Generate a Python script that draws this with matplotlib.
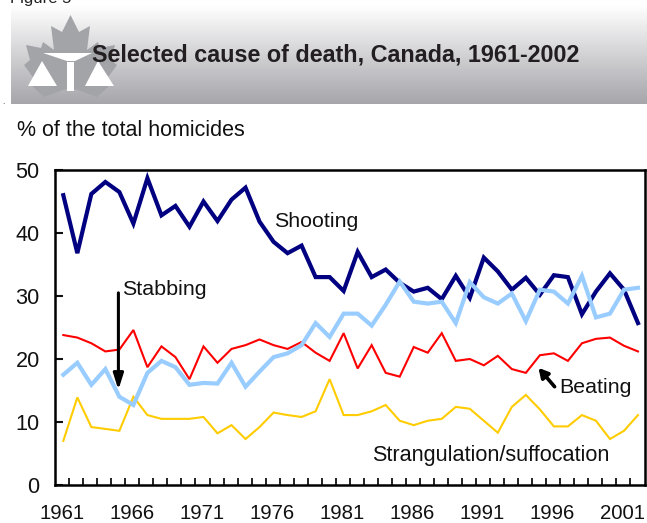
#!/usr/bin/env python3
"""Selected cause of death, Canada, 1961-2002 (share of total homicides)."""
import matplotlib
matplotlib.use("Agg")
import matplotlib.pyplot as plt
import numpy as np
from matplotlib.patches import Polygon
from matplotlib.transforms import ScaledTranslation

plt.rcParams["font.family"] = ["Liberation Sans", "DejaVu Sans"]

W, H = 647, 523

YEARS = list(range(1961, 2003))
SHOOTING = [46, 36.8, 46.2, 48.1, 46.5, 41.5, 48.7, 42.8, 44.3, 41, 45, 41.9, 45.3, 47.2,
            41.8, 38.6, 36.8, 38, 33, 33, 30.8, 37, 33, 34.2, 32.1, 30.7, 31.3, 29.5,
            33.2, 29.7, 36.1, 33.9, 31, 32.9, 30.2, 33.3, 33, 27.1, 30.7, 33.6, 31, 25.7]
STABBING = [17.5, 19.4, 15.9, 18.4, 14, 12.7, 17.8, 19.7, 18.7, 15.9, 16.2, 16.1, 19.4, 15.6,
            18, 20.3, 20.9, 22.2, 25.7, 23.5, 27.2, 27.2, 25.3, 28.6, 32.3, 29.1, 28.8, 29.1,
            25.7, 32.2, 29.8, 28.8, 30.4, 26, 31, 30.7, 28.8, 33.2, 26.6, 27.2, 31, 31.3]
BEATING = [23.8, 23.4, 22.5, 21.2, 21.5, 24.6, 18.7, 22, 20.3, 16.8, 22, 19.4, 21.6, 22.2,
           23.1, 22.2, 21.6, 22.7, 21, 19.7, 24.1, 18.5, 22.2, 17.8, 17.2, 21.9, 21, 24.1,
           19.7, 20, 19, 20.5, 18.4, 17.8, 20.6, 20.9, 19.7, 22.5, 23.2, 23.4, 22.1, 21.2]
STRANGULATION = [7, 13.9, 9.2, 8.9, 8.6, 14, 11.1, 10.5, 10.5, 10.5, 10.8, 8.2, 9.5, 7.3,
                 9.2, 11.5, 11.1, 10.8, 11.7, 16.8, 11.1, 11.1, 11.7, 12.7, 10.2, 9.5, 10.2,
                 10.5, 12.4, 12.1, 10.2, 8.3, 12.4, 14.3, 12, 9.3, 9.3, 11.1, 10.2, 7.3, 8.6, 11.1]
YTICKS = [0, 10, 20, 30, 40, 50]

# left half of the maple leaf in banner pixels, mirrored about LEAF_AXIS
LEAF_LEFT = [(70.5, 15), (62, 32), (51, 26), (54, 50), (43, 42), (41, 48), (26, 45), (30, 60),
             (24, 65), (35, 80), (32, 86), (44, 97), (66, 89)]
LEAF_AXIS = 70.5


def px_axes(fig, left, top, right, bottom):
    return fig.add_axes([left / W, 1 - bottom / H, (right - left) / W, (bottom - top) / H])


def draw_banner(fig):
    ax = fig.add_axes([0, 0, 1, 1], zorder=0)
    grad = np.linspace(0, 1, 100)[:, None]
    top, bot = np.array([1.0, 1.0, 1.0]), np.array([0.65, 0.65, 0.67])
    rgb = (top + (bot - top) * grad[..., None]).reshape(100, 1, 3)
    ax.imshow(rgb, extent=(11, W, 104, 5), aspect="auto", zorder=1)
    ax.set_xlim(0, W)
    ax.set_ylim(H, 0)
    ax.axis("off")

    right = [(2 * LEAF_AXIS - x, y) for x, y in reversed(LEAF_LEFT)]
    ax.add_patch(Polygon(LEAF_LEFT + right, closed=True, fc="#a3a4a8", ec="none", zorder=2))
    white = dict(closed=True, fc="white", ec="none", zorder=3)
    ax.add_patch(Polygon([(43, 53), (92, 53), (75, 61), (67, 61)], **white))
    ax.add_patch(Polygon([(42, 61), (28, 86), (57, 86)], **white))
    ax.add_patch(Polygon([(98, 61), (85, 86), (114, 86)], **white))
    ax.add_patch(Polygon([(67, 62), (74, 62), (74, 91), (67, 91)], **white))

    ax.text(10, -2, "Figure 5", fontsize=12, color="#222222", va="center", zorder=4)
    ax.text(91.5, 55, "Selected cause of death, Canada, 1961-2002", fontsize=16.85, fontweight="bold",
            color="#231f20", va="center", zorder=4)
    ax.text(17, 130, "% of the total homicides", fontsize=15.5, color="#111111", va="center", zorder=4)
    ax.text(3, 104, ".", fontsize=6, color="#333333", ha="center", va="baseline", zorder=4)


def main():
    fig = plt.figure(figsize=(W / 100, H / 100), dpi=100)
    draw_banner(fig)

    ax = px_axes(fig, 55, 170, 645, 485)
    ax.patch.set_alpha(0)
    pos = np.arange(len(YEARS))
    ax.plot(pos, SHOOTING, color="#000080", lw=3.0, solid_joinstyle="miter", zorder=3)
    ax.plot(pos, BEATING, color="#ff0000", lw=1.5, solid_joinstyle="miter", zorder=2)
    ax.plot(pos, STRANGULATION, color="#ffcc00", lw=1.5, solid_joinstyle="miter", zorder=2)
    ax.plot(pos, STABBING, color="#99ccff", lw=3.0, solid_joinstyle="miter", zorder=4)

    ax.set_xlim(-0.593, 41.5)
    ax.set_ylim(0, 50)
    ax.set_yticks(YTICKS)
    ax.set_xticks(pos[::5], [str(y) for y in YEARS[::5]])
    ax.set_xticks(pos[:-1] + 0.43, minor=True)
    ax.tick_params(axis="y", direction="in", length=6, width=1.5, labelsize=15.6, pad=11, colors="#111111")
    ax.tick_params(axis="x", which="major", length=0, labelsize=14.7, pad=14, colors="#111111")
    ax.tick_params(axis="x", which="minor", direction="in", length=5, width=1.3, color="#111111")
    nudge = ScaledTranslation(-1.3 / 100, 0, fig.dpi_scale_trans)
    for label in ax.get_xticklabels():
        label.set_transform(label.get_transform() + nudge)
    for side in ax.spines.values():
        side.set_linewidth(1.8)

    ax.text(15.05, 41.9, "Shooting", fontsize=15.4, va="center", color="#111111", zorder=6)
    ax.text(4.2, 31.1, "Stabbing", fontsize=15.4, va="center", color="#111111", zorder=6)
    ax.text(35.4, 15.4, "Beating", fontsize=15.4, va="center", color="#111111", zorder=6)
    ax.text(22.05, 4.76, "Strangulation/suffocation", fontsize=15.6, va="center", color="#111111", zorder=6)

    ax.annotate("", xy=(3.93, 15.1), xytext=(3.93, 30.5), zorder=6,
                arrowprops=dict(arrowstyle="-|>,head_width=0.3,head_length=0.95", lw=2.2, color="black",
                                shrinkA=0, shrinkB=0))
    ax.annotate("", xy=(33.9, 18.6), xytext=(35.05, 15.6), zorder=6,
                arrowprops=dict(arrowstyle="-|>,head_width=0.3,head_length=0.55", lw=2.6, color="black",
                                shrinkA=0, shrinkB=0))

    fig.savefig("out.png", dpi=100)


if __name__ == "__main__":
    main()
